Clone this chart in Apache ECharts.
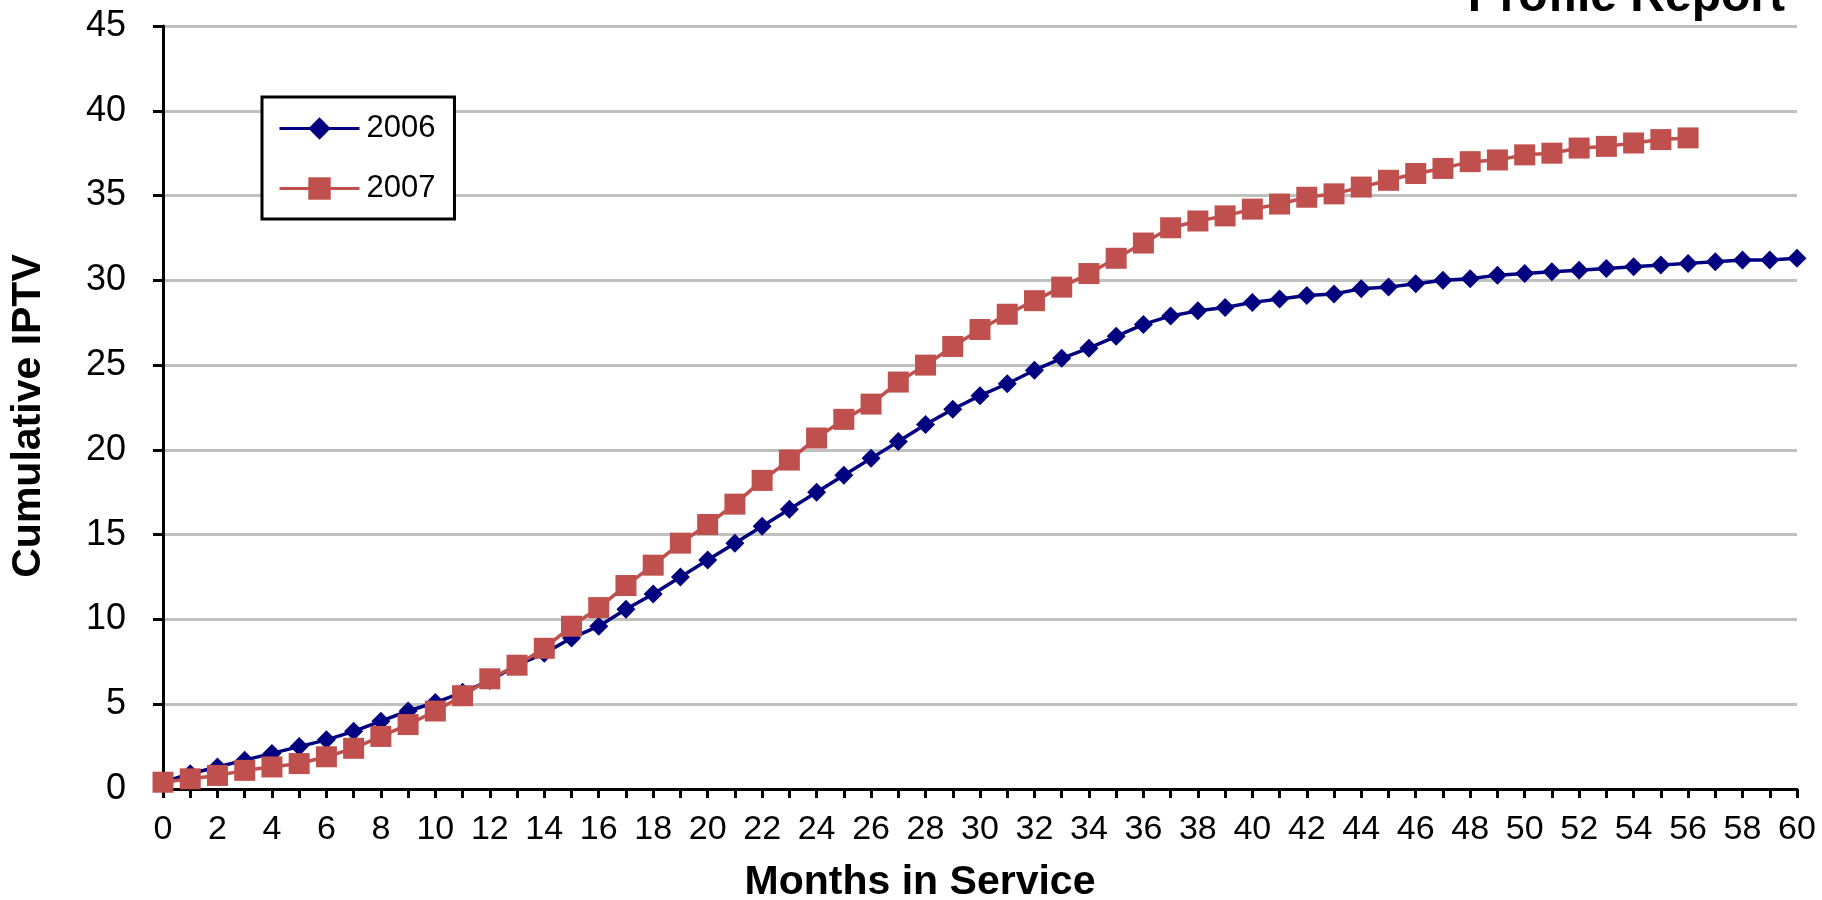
<!DOCTYPE html>
<html>
<head>
<meta charset="utf-8">
<script src="https://cdn.jsdelivr.net/npm/echarts@6/dist/echarts.min.js"></script>
<style>
html,body{margin:0;padding:0;background:#fff;}
#chart{width:1822px;height:900px;}
</style>
</head>
<body>
<div id="chart"></div>
<script>
var months = [];
for (var i = 0; i <= 60; i++) months.push(String(i));

var series2006 = [0.4, 0.9, 1.3, 1.7, 2.1, 2.5, 2.9, 3.4, 4.0, 4.6,
  5.1, 5.7, 6.4, 7.3, 8.0, 8.9, 9.6, 10.6, 11.5, 12.5,
  13.5, 14.5, 15.5, 16.5, 17.5, 18.5, 19.5, 20.5, 21.5, 22.4,
  23.2, 23.9, 24.7, 25.4, 26.0, 26.7, 27.4, 27.9, 28.2, 28.4,
  28.7, 28.9, 29.1, 29.2, 29.5, 29.6, 29.8, 30.0, 30.1, 30.3,
  30.4, 30.5, 30.6, 30.7, 30.8, 30.9, 31.0, 31.1, 31.2, 31.2, 31.3];

var series2007 = [0.4, 0.6, 0.8, 1.1, 1.3, 1.5, 1.9, 2.4, 3.1, 3.8,
  4.6, 5.5, 6.5, 7.3, 8.3, 9.6, 10.7, 12.0, 13.2, 14.5,
  15.6, 16.8, 18.2, 19.4, 20.7, 21.8, 22.7, 24.0, 25.0, 26.1,
  27.1, 28.0, 28.8, 29.6, 30.4, 31.3, 32.2, 33.1, 33.5, 33.8,
  34.2, 34.5, 34.9, 35.1, 35.5, 35.9, 36.3, 36.6, 37.0, 37.1,
  37.4, 37.5, 37.8, 37.9, 38.1, 38.3, 38.4];

var seriesNames = ['2006', '2007'];
var titleText = 'Profile Report';
var xTitle = 'Months in Service';
var yTitle = 'Cumulative IPTV';

var FONT = '"Liberation Sans", Arial, sans-serif';
var chart = echarts.init(document.getElementById('chart'), null, {renderer: 'canvas'});

chart.setOption({
  backgroundColor: '#ffffff',
  animation: false,
  grid: {left: 163, right: 25, top: 26, bottom: 111, containLabel: false},
  legend: {
    orient: 'vertical',
    left: 262, top: 97,
    data: seriesNames,
    backgroundColor: '#ffffff',
    borderColor: '#000000',
    borderWidth: 3,
    borderRadius: 0,
    padding: [16, 19, 15, 16],
    itemWidth: 80,
    itemHeight: 28,
    itemGap: 29,
    lineStyle: {width: 3},
    textStyle: {fontFamily: FONT, fontSize: 31, color: '#000', lineHeight: 30, padding: [0, 0, 0, 2]}
  },
  xAxis: {
    type: 'category',
    data: months,
    boundaryGap: false,
    axisLine: {lineStyle: {color: '#000', width: 3}},
    axisTick: {show: true, interval: 0, length: 9, lineStyle: {color: '#000', width: 3}},
    axisLabel: {interval: 1, margin: 24, fontFamily: FONT, fontSize: 34, color: '#000'},
    splitLine: {show: false}
  },
  yAxis: {
    type: 'value',
    min: 0, max: 45, interval: 5,
    axisLine: {show: true, lineStyle: {color: '#000', width: 3}},
    axisTick: {show: true, length: 10, lineStyle: {color: '#000', width: 3}},
    axisLabel: {margin: 37, fontFamily: FONT, fontSize: 36, color: '#000'},
    splitLine: {show: true, lineStyle: {color: '#c0c0c0', width: 3}}
  },
  graphic: [
    {type: 'text', x: 1785, y: -2, z: 10,
      style: {text: titleText, fontFamily: FONT, fontWeight: 'bold', fontSize: 48, fill: '#000',
        align: 'right', verticalAlign: 'middle',
        shadowColor: 'rgba(0,0,0,0.45)', shadowBlur: 4, shadowOffsetX: 4, shadowOffsetY: 4}},
    {type: 'text', x: 920, y: 883, z: 10,
      style: {text: xTitle, fontFamily: FONT, fontWeight: 'bold', fontSize: 41, fill: '#000',
        align: 'center', verticalAlign: 'middle'}},
    {type: 'text', x: 29, y: 416, rotation: Math.PI / 2, z: 10,
      style: {text: yTitle, fontFamily: FONT, fontWeight: 'bold', fontSize: 41, fill: '#000',
        align: 'center', verticalAlign: 'middle'}}
  ],
  series: [
    {
      name: seriesNames[0], type: 'line', data: series2006,
      symbol: 'diamond', symbolSize: 19, showAllSymbol: true,
      lineStyle: {color: '#000080', width: 3.5},
      itemStyle: {color: '#000080'},
      z: 3
    },
    {
      name: seriesNames[1], type: 'line', data: series2007,
      symbol: 'rect', symbolSize: 21, showAllSymbol: true,
      lineStyle: {color: '#C0504D', width: 3.5},
      itemStyle: {color: '#C0504D'},
      z: 4
    }
  ]
});
</script>
</body>
</html>
